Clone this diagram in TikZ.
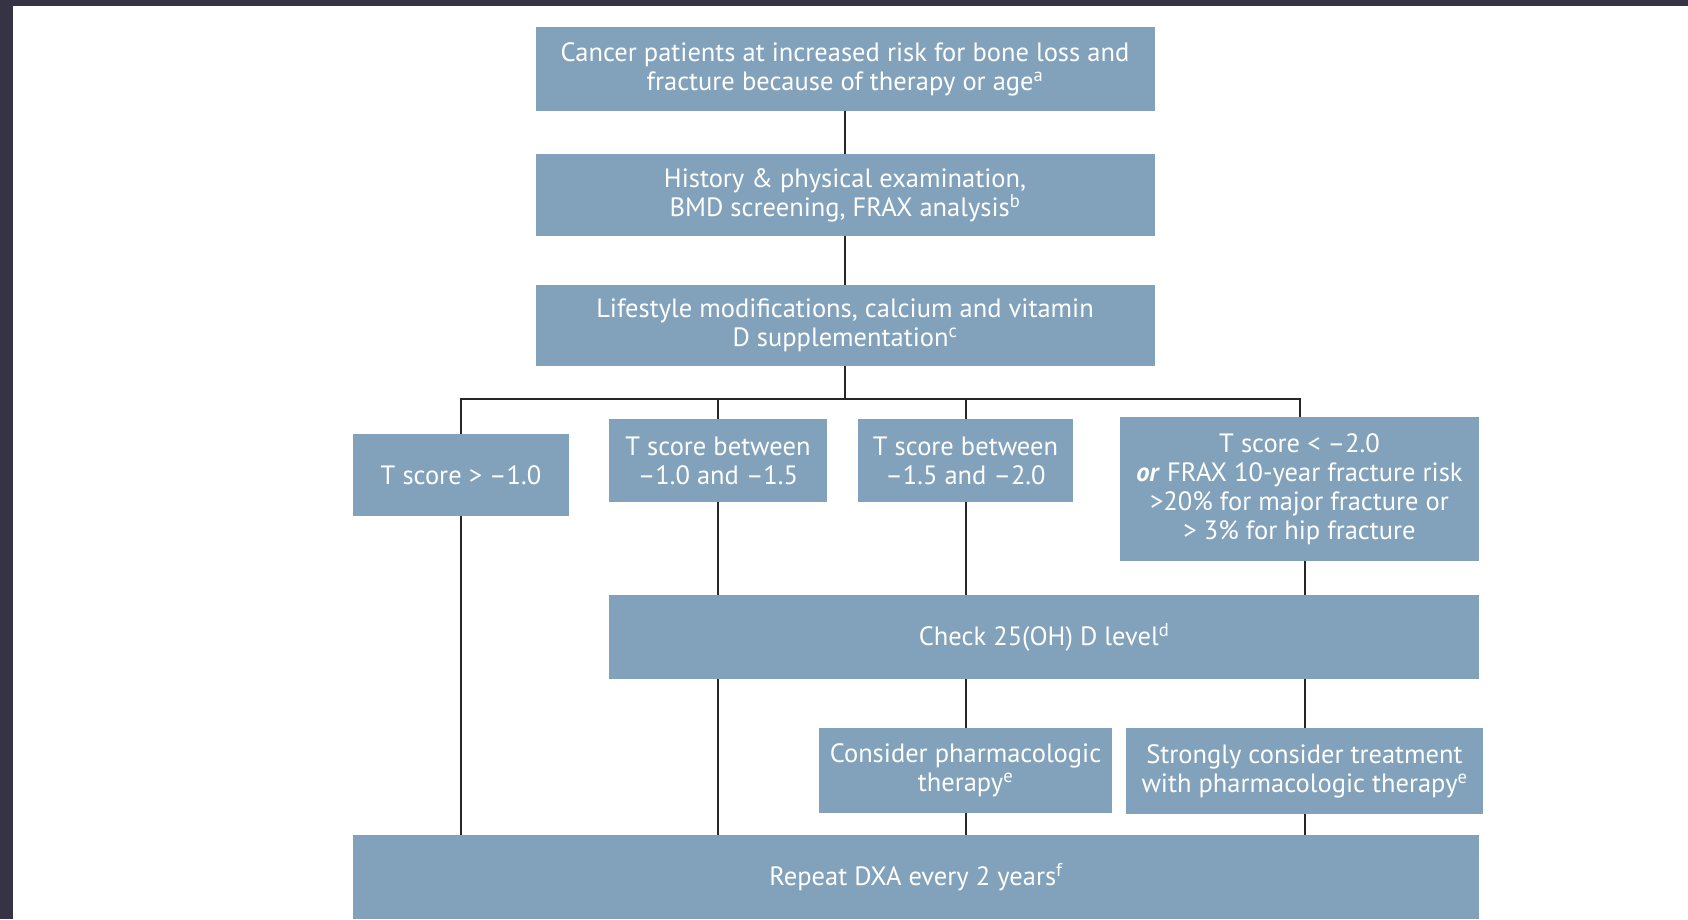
\documentclass[tikz,border=0pt]{standalone}
\usepackage{fontspec}
\setmainfont{PT Sans}
\definecolor{boxblue}{HTML}{82A2BB}
\definecolor{pageframe}{HTML}{363345}
\tikzstyle{block}=[fill=boxblue,text=white,align=center,inner sep=0pt,font=\fontsize{26.5}{29}\selectfont]
\tikzstyle{link}=[draw=black!85,line width=2pt]

\begin{document}
\begin{tikzpicture}[x=1pt,y=-1pt]
    \fill[white] (0,0) rectangle (1688,919);
    \fill[pageframe] (0,0) rectangle (1688,6);
    \fill[pageframe] (0,0) rectangle (13,919);
    \useasboundingbox (0,0) rectangle (1688,919);

    \node[block,minimum width=619,minimum height=84] (risk) at (845,69)
        {Cancer patients at increased risk for bone loss and\\fracture because of therapy or age\textsuperscript{a}};
    \node[block,minimum width=619,minimum height=82] (history) at (845,195)
        {History \& physical examination,\\BMD screening, FRAX analysis\textsuperscript{b}};
    \node[block,minimum width=619,minimum height=81] (lifestyle) at (845,325.5)
        {Lifestyle modifications, calcium and vitamin\\D supplementation\textsuperscript{c}};
    \node[block,minimum width=216,minimum height=82] (tnormal) at (461,475)
        {T score > –1.0};
    \node[block,minimum width=218,minimum height=83] (tlow) at (718,460.5)
        {T score between\\–1.0 and –1.5};
    \node[block,minimum width=215,minimum height=83] (tmid) at (965.5,460.5)
        {T score between\\–1.5 and –2.0};
    \node[block,minimum width=359,minimum height=144] (thigh) at (1299.5,489)
        {T score < –2.0\\\textbf{\textit{or}} FRAX 10-year fracture risk\\>20\% for major fracture or\\> 3\% for hip fracture};
    \node[block,minimum width=870,minimum height=84] (check) at (1044,637)
        {Check 25(OH) D level\textsuperscript{d}};
    \node[block,minimum width=293,minimum height=85] (consider) at (965.5,770.5)
        {Consider pharmacologic\\therapy\textsuperscript{e}};
    \node[block,minimum width=357,minimum height=86] (strongly) at (1304.5,771)
        {Strongly consider treatment\\with pharmacologic therapy\textsuperscript{e}};
    \node[block,minimum width=1126,minimum height=84] (repeat) at (916,877)
        {Repeat DXA every 2 years\textsuperscript{f}};

    \coordinate (bus) at (845,399);

    \draw[link] (risk) -- (history);
    \draw[link] (history) -- (lifestyle);
    \draw[link] (lifestyle) -- (bus);
    \draw[link] (tnormal.north) |- (bus) -| (thigh.north);
    \draw[link] (tlow.north) -- (tlow.north |- bus);
    \draw[link] (tmid.north) -- (tmid.north |- bus);
    \draw[link] (tnormal.south) -- (tnormal.south |- repeat.north);
    \draw[link] (tlow.south) -- (tlow.south |- check.north);
    \draw[link] (tlow.south |- check.south) -- (tlow.south |- repeat.north);
    \draw[link] (tmid.south) -- (tmid.south |- check.north);
    \draw[link] (consider.north |- check.south) -- (consider.north);
    \draw[link] (consider.south) -- (consider.south |- repeat.north);
    \draw[link] (strongly.north |- thigh.south) -- (strongly.north |- check.north);
    \draw[link] (strongly.north |- check.south) -- (strongly.north);
    \draw[link] (strongly.south) -- (strongly.south |- repeat.north);
\end{tikzpicture}
\end{document}
